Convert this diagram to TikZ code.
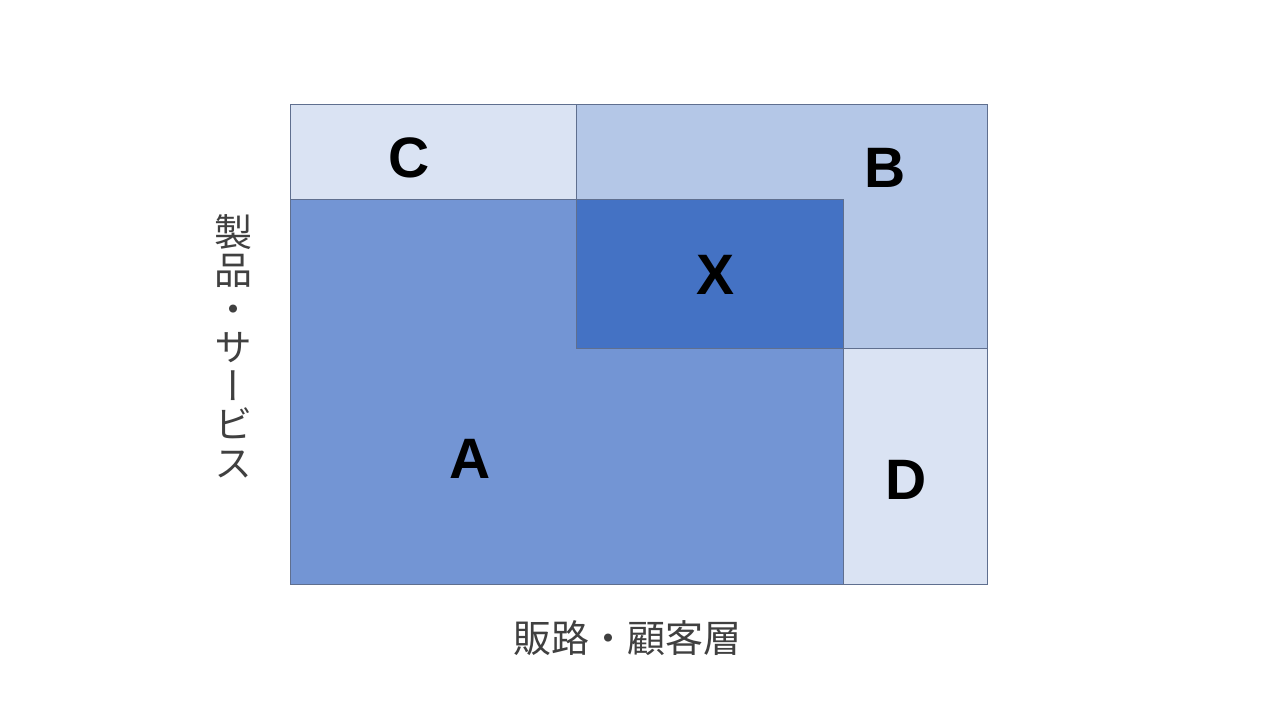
\documentclass[tikz,border=0pt]{standalone}
\usepackage{fontspec}
\setmainfont{Liberation Sans}
\newfontfamily\jpfont{Noto Sans CJK JP}
\newfontfamily\jpvert[RawFeature=+vert]{Noto Sans CJK JP}
\definecolor{cLight}{HTML}{DAE3F3}
\definecolor{cMid}{HTML}{B4C7E7}
\definecolor{cA}{HTML}{7395D4}
\definecolor{cX}{HTML}{4472C4}
\definecolor{cEdge}{HTML}{5F6F8F}
\definecolor{cText}{HTML}{404040}
\tikzset{
  region/.style={draw=cEdge, line width=1pt},
  letter/.style={anchor=base, inner sep=0pt, font=\fontsize{57}{60}\selectfont\bfseries, text=black},
  axislabel/.style={text=cText, inner sep=0pt}
}
\begin{document}
\begin{tikzpicture}[x=1pt,y=-1pt]
\useasboundingbox (0,0) rectangle (1280,720);
\fill[white] (0,0) rectangle (1280,720);
% regions
\path[region, fill=cLight] (290,104) rectangle (576,199);
\path[region, fill=cMid] (576,104) rectangle (987,348);
\path[region, fill=cA] (290,199) rectangle (843,584);
\path[region, fill=cX] (576,199) rectangle (843,348);
\path[region, fill=cLight] (843,348) rectangle (987,584);
% letters
\node[letter] (C) at (409.5,177.5) {C};
\node[letter] (B) at (885.5,187.5) {B};
\node[letter] (X) at (716,294) {X};
\node[letter] (A) at (470,478) {A};
\node[letter] (D) at (906,499.5) {D};
% axis labels
\node[axislabel, anchor=center, font=\jpfont\fontsize{38}{38.5}\selectfont] (xlab) at (627,638) {販路・顧客層};
\node[axislabel, align=center, anchor=center, font=\jpvert\fontsize{38}{38.5}\selectfont] (ylab) at (233,346) {製\\品\\・\\サ\\ー\\ビ\\ス};
\end{tikzpicture}
\end{document}
